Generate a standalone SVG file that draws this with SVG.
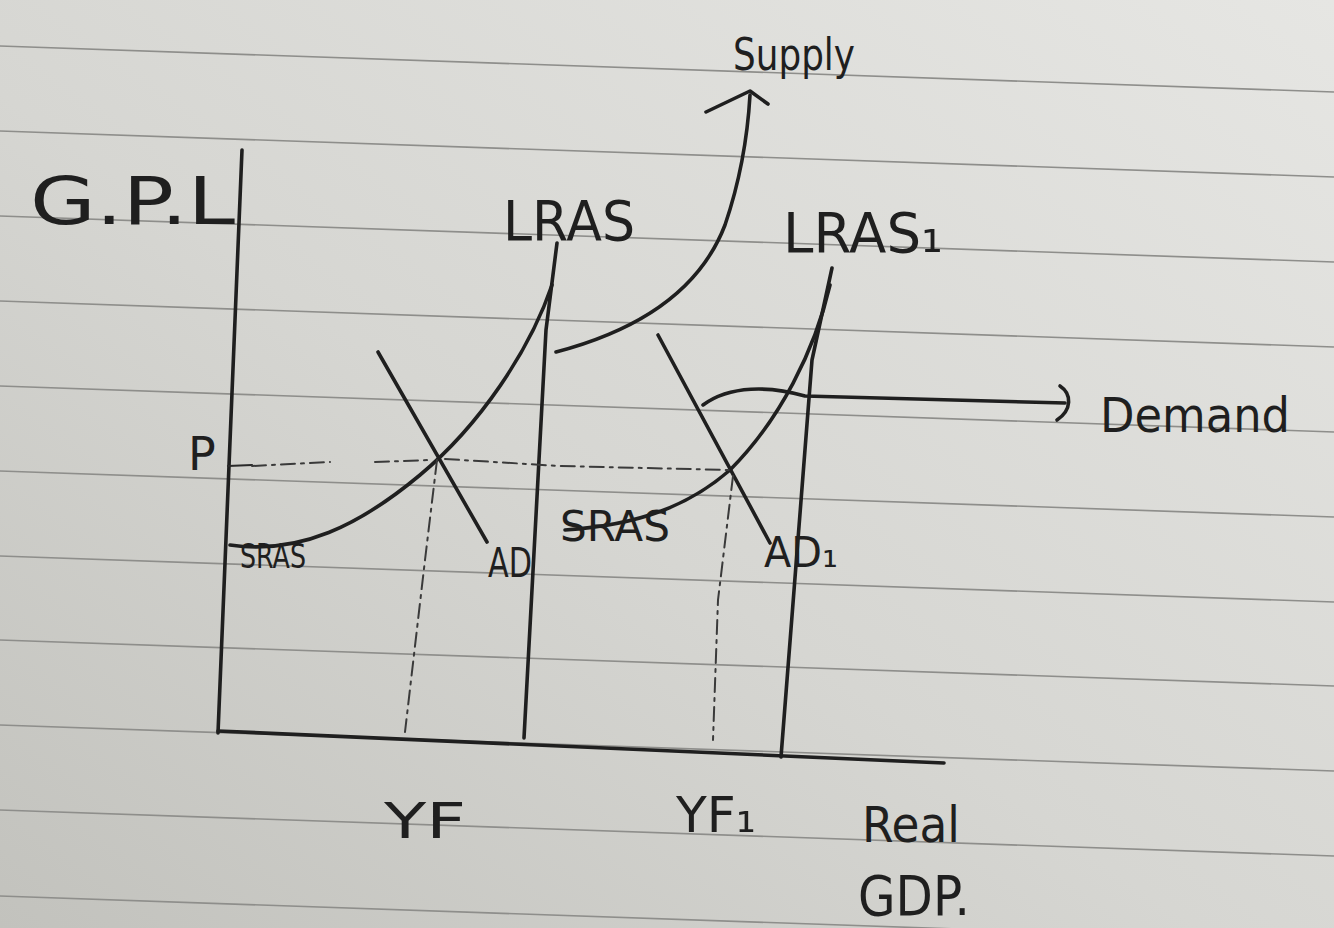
<svg xmlns="http://www.w3.org/2000/svg" width="1334" height="928" viewBox="0 0 1334 928">
<defs>
<linearGradient id="paper" x1="1" y1="0" x2="0" y2="1">
<stop offset="0" stop-color="#e6e6e3"/>
<stop offset="0.55" stop-color="#d6d6d2"/>
<stop offset="1" stop-color="#c2c2bd"/>
</linearGradient>
<style>
.rule{stroke:#8e8e8b;stroke-width:1.6;fill:none}
.ink{stroke:#1f1f1f;stroke-width:3.6;fill:none;stroke-linecap:round;stroke-linejoin:round}
.thin{stroke:#2a2a2a;stroke-width:2.2;fill:none;stroke-linecap:round;stroke-linejoin:round}
.dash{stroke:#3a3a3a;stroke-width:2;fill:none;stroke-dasharray:14 6 3 6;stroke-linecap:round}
.lbl{font-family:"DejaVu Sans","Liberation Sans",sans-serif;fill:#1f1f1f;font-weight:normal}
</style>
</defs>
<rect x="0" y="0" width="1334" height="928" fill="url(#paper)"/>
<g id="ruling">
<path class="rule" d="M0 46 L1334 92"/>
<path class="rule" d="M0 131 L1334 177"/>
<path class="rule" d="M0 216 L1334 262"/>
<path class="rule" d="M0 301 L1334 347"/>
<path class="rule" d="M0 386 L1334 432"/>
<path class="rule" d="M0 471 L1334 517"/>
<path class="rule" d="M0 556 L1334 602"/>
<path class="rule" d="M0 640 L1334 686"/>
<path class="rule" d="M0 725 L1334 771"/>
<path class="rule" d="M0 810 L1334 856"/>
<path class="rule" d="M0 896 L1334 942"/>
</g>
<g id="axes">
<path class="ink" d="M242 150 L218 733"/>
<path class="ink" d="M218 731 L944 763"/>
<path class="thin" d="M228 466 L252 465"/>
</g>
<g id="connectors">
<path id="lras" class="ink" d="M557 243 L546 330 L524 738"/>
<path id="lras1" class="ink" d="M832 268 L812 360 L781 757"/>
<path id="sras" class="ink" d="M230 545 C300 555 360 525 420 475 C480 425 530 350 552 285"/>
<path id="ad" class="ink" d="M378 352 L487 542"/>
<path id="sras1" class="ink" d="M565 530 C640 525 690 505 730 470 C780 420 815 350 830 285"/>
<path id="ad1" class="ink" d="M658 335 L770 543"/>
<path id="supply-arrow" class="ink" d="M556 352 C640 330 700 290 725 225 C742 175 748 130 750 95"/>
<path class="ink" d="M706 112 L750 91 L768 104"/>
<path id="demand-arrow" class="ink" d="M703 405 C730 385 770 386 805 396 L1065 403"/>
<path class="ink" d="M1060 386 C1072 394 1072 410 1057 420"/>
<path class="dash" d="M252 466 L330 462 M375 462 L430 460 M445 459 L560 466 L730 470"/>
<path class="dash" d="M437 460 L425 560 L405 732"/>
<path class="dash" d="M733 476 L718 600 L713 740"/>
</g>
<g id="labels">
<text id="t-gpl" class="lbl" x="30" y="224" font-size="66" textLength="205" lengthAdjust="spacingAndGlyphs">G.P.L</text>
<text id="t-lras" class="lbl" x="503" y="240" font-size="56" textLength="132" lengthAdjust="spacingAndGlyphs">LRAS</text>
<text id="t-lras1" class="lbl" x="783" y="252" font-size="56" textLength="160" lengthAdjust="spacingAndGlyphs">LRAS₁</text>
<text id="t-supply" class="lbl" x="733" y="70" font-size="44" textLength="122" lengthAdjust="spacingAndGlyphs">Supply</text>
<text id="t-demand" class="lbl" x="1100" y="432" font-size="48" textLength="190" lengthAdjust="spacingAndGlyphs">Demand</text>
<text id="t-p" class="lbl" x="188" y="470" font-size="46">P</text>
<text id="t-sras" class="lbl" x="240" y="568" font-size="34" textLength="66" lengthAdjust="spacingAndGlyphs">SRAS</text>
<text id="t-ad" class="lbl" x="488" y="577" font-size="40" textLength="44" lengthAdjust="spacingAndGlyphs">AD</text>
<text id="t-sras1" class="lbl" x="560" y="541" font-size="42" textLength="110" lengthAdjust="spacingAndGlyphs">SRAS</text>
<text id="t-ad1" class="lbl" x="764" y="567" font-size="42" textLength="74" lengthAdjust="spacingAndGlyphs">AD₁</text>
<text id="t-yf" class="lbl" x="384" y="838" font-size="50" textLength="82" lengthAdjust="spacingAndGlyphs">YF</text>
<text id="t-yf1" class="lbl" x="676" y="832" font-size="50" textLength="80" lengthAdjust="spacingAndGlyphs">YF₁</text>
<text id="t-real" class="lbl" x="862" y="842" font-size="50" textLength="98" lengthAdjust="spacingAndGlyphs">Real</text>
<text id="t-gdp" class="lbl" x="858" y="915" font-size="56" textLength="112" lengthAdjust="spacingAndGlyphs">GDP.</text>
</g>
</svg>
